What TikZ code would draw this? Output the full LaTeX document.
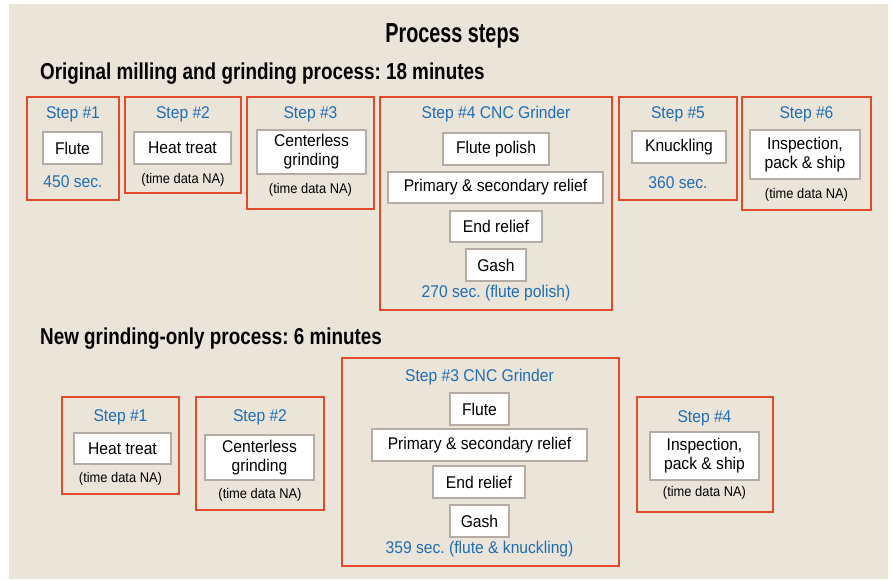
\documentclass[tikz,border=0pt]{standalone}
\usepackage{fontspec}
\setmainfont{Liberation Sans}[FakeStretch=0.92]
\newfontfamily\titlefont{Liberation Sans}[FakeStretch=0.72]
\newfontfamily\headfont{Liberation Sans}[FakeStretch=0.82]
\usetikzlibrary{positioning}
\definecolor{bgbeige}{HTML}{EBE4D9}
\definecolor{stepred}{HTML}{E3492B}
\definecolor{stepblue}{HTML}{1F6EB4}
\definecolor{boxgray}{HTML}{B5ADA5}
\frenchspacing

\begin{document}
\begin{tikzpicture}[
  x=1pt, y=-1pt,
  frame/.style={draw=stepred, line width=2.6pt, inner sep=0pt},
  inbox/.style={draw=boxgray, fill=white, line width=1.2pt, align=center, inner sep=0pt,
    font=\fontsize{17}{19}\selectfont},
  lbl/.style={text=stepblue, inner sep=0pt, font=\fontsize{17}{19}\selectfont},
  na/.style={inner sep=0pt, font=\fontsize{14}{16}\selectfont},
  hd/.style={anchor=west, inner sep=0pt, font=\headfont\bfseries\fontsize{23}{27}\selectfont}
]
\useasboundingbox (0,0) rectangle (892,579);
\fill[bgbeige] (9,4) rectangle (888,579);

% titles
\node[inner sep=0pt, font=\titlefont\bfseries\fontsize{27.5}{32}\selectfont] (title) at (452.5,36) {Process steps};
\node[hd] (orig) at (40,74) {Original milling and grinding process: 18 minutes};
\node[hd] (new) at (40,339) {New grinding-only process: 6 minutes};

% original process
\node[frame, minimum width=92pt, minimum height=103pt] (o1) at (73,148.5) {};
\node[frame, minimum width=116pt, minimum height=96pt] (o2) at (183,145) {};
\node[frame, minimum width=127pt, minimum height=112pt] (o3) at (310.5,153) {};
\node[frame, minimum width=232pt, minimum height=213pt] (o4) at (496,203.5) {};
\node[frame, minimum width=118pt, minimum height=103pt] (o5) at (678,148.5) {};
\node[frame, minimum width=129pt, minimum height=113pt] (o6) at (806.5,153.5) {};

\node[lbl] (o1l) at (73,114) {Step \#1};
\node[lbl] (o2l) at (183,114) {Step \#2};
\node[lbl] (o3l) at (310.5,114) {Step \#3};
\node[lbl] (o4l) at (496,114) {Step \#4 CNC Grinder};
\node[lbl] (o5l) at (678,114) {Step \#5};
\node[lbl] (o6l) at (806.5,114) {Step \#6};

\node[inbox, minimum width=59pt, minimum height=32pt] (flute) at (72.5,148) {Flute};
\node[inbox, minimum width=97pt, minimum height=32pt] (heat) at (182.5,148) {Heat treat};
\node[inbox, minimum width=109pt, minimum height=44pt] (cent) at (311.5,152) {Centerless\\grinding};
\node[inbox, minimum width=106pt, minimum height=32pt] (fpol) at (496,149) {Flute polish};
\node[inbox, minimum width=215pt, minimum height=31pt] (prim) at (495.5,187.5) {Primary \& secondary relief};
\node[inbox, minimum width=92pt, minimum height=31pt] (endr) at (496,226.5) {End relief};
\node[inbox, minimum width=60pt, minimum height=32pt] (gash) at (496,265) {Gash};
\node[inbox, minimum width=94pt, minimum height=32pt] (knuck) at (679,147) {Knuckling};
\node[inbox, minimum width=110pt, minimum height=49pt] (insp) at (805,154.5) {Inspection,\\pack \& ship};

\node[lbl] (o1t) at (73,182) {450 sec.};
\node[na] (o2t) at (183,180) {(time data NA)};
\node[na] (o3t) at (310.5,190) {(time data NA)};
\node[lbl] (o4t) at (496,293) {270 sec. (flute polish)};
\node[lbl] (o5t) at (678,183) {360 sec.};
\node[na] (o6t) at (806.5,195) {(time data NA)};

% new process
\node[frame, minimum width=117pt, minimum height=97pt] (p1) at (120.5,445.5) {};
\node[frame, minimum width=128pt, minimum height=113pt] (p2) at (260,453.5) {};
\node[frame, minimum width=277pt, minimum height=208pt] (p3) at (480.5,462) {};
\node[frame, minimum width=136pt, minimum height=115pt] (p4) at (705,454.5) {};

\node[lbl] (p1l) at (120.5,417) {Step \#1};
\node[lbl] (p2l) at (260,417) {Step \#2};
\node[lbl] (p3l) at (479.5,377) {Step \#3 CNC Grinder};
\node[lbl] (p4l) at (704.5,418) {Step \#4};

\node[inbox, minimum width=97pt, minimum height=31pt] (heat2) at (122.5,448.5) {Heat treat};
\node[inbox, minimum width=109pt, minimum height=45pt] (cent2) at (259.5,457.5) {Centerless\\grinding};
\node[inbox, minimum width=59pt, minimum height=32pt] (flute2) at (479.5,409) {Flute};
\node[inbox, minimum width=215pt, minimum height=32pt] (prim2) at (479.5,445) {Primary \& secondary relief};
\node[inbox, minimum width=92pt, minimum height=32pt] (endr2) at (479,482) {End relief};
\node[inbox, minimum width=59pt, minimum height=32pt] (gash2) at (479.5,521) {Gash};
\node[inbox, minimum width=109pt, minimum height=48pt] (insp2) at (704.5,456) {Inspection,\\pack \& ship};

\node[na] (p1t) at (120.5,479) {(time data NA)};
\node[na] (p2t) at (260,495) {(time data NA)};
\node[lbl] (p3t) at (479.5,549) {359 sec. (flute \& knuckling)};
\node[na] (p4t) at (704.5,493) {(time data NA)};
\end{tikzpicture}
\end{document}
